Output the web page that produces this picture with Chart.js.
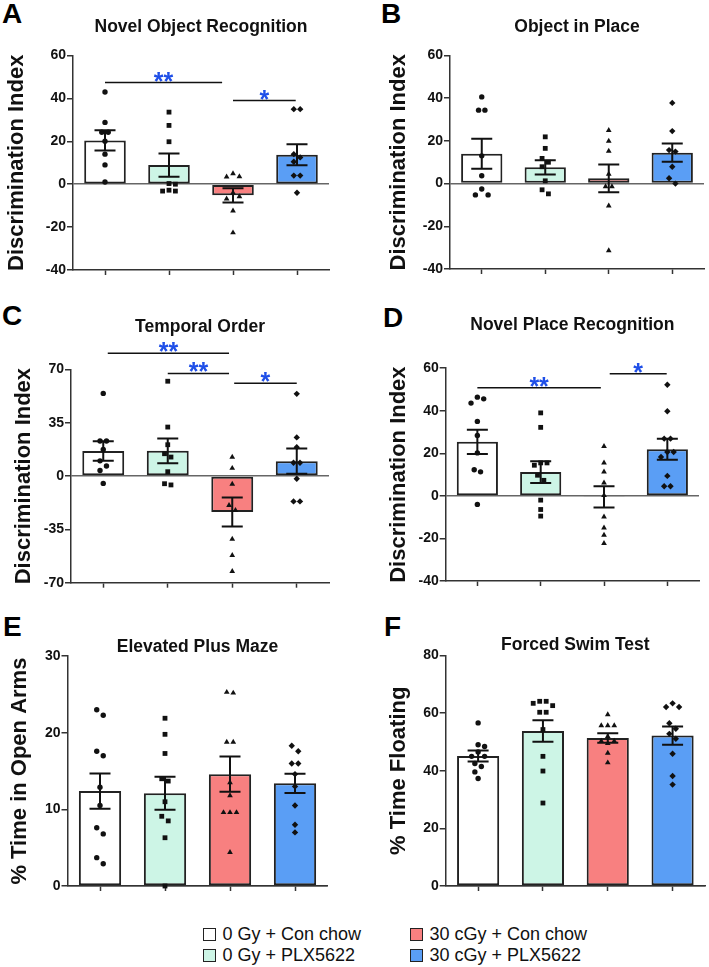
<!DOCTYPE html>
<html><head><meta charset="utf-8">
<script src="https://cdn.jsdelivr.net/npm/chart.js@4.4.1/dist/chart.umd.min.js"></script>
<style>
html,body{margin:0;padding:0;background:#fff;width:709px;height:967px;overflow:hidden;position:relative;font-family:"Liberation Sans",Arial,sans-serif;}
canvas{position:absolute;}
.lbl{position:absolute;font-weight:bold;font-size:28px;line-height:28px;color:#000;}
.leg{position:absolute;font-size:18px;line-height:21px;color:#111;white-space:nowrap;}
.box{position:absolute;width:11px;height:11px;border:1px solid #222;}
</style></head><body>
<div class="lbl" style="left:2px;top:0px">A</div>
<div class="lbl" style="left:381px;top:0px">B</div>
<div class="lbl" style="left:2px;top:302px">C</div>
<div class="lbl" style="left:383px;top:304px">D</div>
<div class="lbl" style="left:3px;top:613px">E</div>
<div class="lbl" style="left:384px;top:613px">F</div>
<canvas id="cA" width="354" height="300" style="left:0;top:0"></canvas>
<canvas id="cB" width="355" height="300" style="left:354px;top:0"></canvas>
<canvas id="cC" width="354" height="330" style="left:0;top:300px"></canvas>
<canvas id="cD" width="355" height="330" style="left:354px;top:300px"></canvas>
<canvas id="cE" width="354" height="270" style="left:0;top:630px"></canvas>
<canvas id="cF" width="355" height="270" style="left:354px;top:630px"></canvas>
<div id="legend"></div>
<script>
// ---------- data ----------
const categories = ['0 Gy + Con chow', '0 Gy + PLX5622', '30 cGy + Con chow', '30 cGy + PLX5622'];

const titleA = 'Novel Object Recognition';
const ticksA = [-40, -20, 0, 20, 40, 60];
const meansA = [20.4, 8.9, -5.2, 13.7];
const semA = [4.7, 5.4, 3.3, 4.9];
const pointsA = [
  [43, 28.8, 24.2, 24.2, 20, 14, 9, 1],
  [33.6, 27.4, 19.8, 0.3, 0, -2.8, -3.2, -3.2],
  [5, 3.4, 3.6, -4, -5.8, -6.8, -12.4, -22.6],
  [35, 35, 14, 12.5, 10.5, 4, 4, -4]
];
const sigA = [{from: 0, to: 1.83, y: 47.4, label: '**'}, {from: 2.0, to: 2.98, y: 39, label: '*'}];

const titleB = 'Object in Place';
const ticksB = [-40, -20, 0, 20, 40, 60];
const meansB = [14.0, 7.6, 2.5, 14.5];
const semB = [7.0, 3.3, 6.5, 4.3];
const pointsB = [
  [40.6, 34.4, 34.4, 13, 3.7, -2.5, -5.3, -5.3],
  [21.9, 16.5, 11.8, 10, 7.9, 1.3, -2.9, -4.8],
  [25, 19.9, 15.2, 4.5, -1.4, -1.4, -10.4, -31.4],
  [37.8, 24.6, 15.7, 15, 7.9, 2.5, 0]
];
const sigB = [];

const titleC = 'Temporal Order';
const ticksC = [-70, -35, 0, 35, 70];
const meansC = [16.5, 16.6, -23.6, 9.8];
const semC = [6.4, 8.1, 9.5, 8.3];
const pointsC = [
  [54.3, 23, 23, 17.5, 10, 6.6, 3.7, -4.8],
  [62.3, 32.2, 20.6, 14.7, 12.5, 2.9, -5, -5.8],
  [12.5, 5.2, -5.2, -19.2, -22.5, -41.3, -52, -62.5],
  [54, 25.4, 19, 8.8, 8.8, -1.7, -16.6, -16.6]
];
const sigC = [{from: 0.07, to: 1.95, y: 80.7, label: '**'}, {from: 1.0, to: 1.95, y: 67.4, label: '**'}, {from: 2.03, to: 3.0, y: 61, label: '*'}];

const titleD = 'Novel Place Recognition';
const ticksD = [-40, -20, 0, 20, 40, 60];
const meansD = [25.4, 11.2, -0.5, 21.9];
const semD = [5.7, 5.1, 5.0, 4.9];
const pointsD = [
  [46.4, 45.6, 43.6, 35, 28.4, 20.2, 12.3, 11.3, -4],
  [39, 32.2, 15.5, 15.5, 14.4, 9.7, 7.3, -2, -6.4, -9.5],
  [23.3, 15.5, 11.3, 6.1, 0.3, -9.8, -15, -18.4, -22.3],
  [52.2, 39.8, 26.9, 26.9, 20.6, 20.6, 18.3, 9.4, 4.5, 4.5]
];
const sigD = [{from: 0, to: 1.95, y: 50.8, label: '**'}, {from: 2.09, to: 2.99, y: 57.4, label: '*'}];

const titleE = 'Elevated Plus Maze';
const ticksE = [0, 10, 20, 30];
const meansE = [12.4, 12.1, 14.6, 13.4];
const semE = [2.3, 2.15, 2.3, 1.25];
const pointsE = [
  [23, 22.3, 17.6, 17, 12.9, 10.5, 7.6, 6.8, 3.7, 2.9],
  [21.9, 19.8, 17.3, 14, 13.7, 11, 9.1, 8.5, 6.3, 0],
  [25.3, 25.2, 18.8, 18.8, 13.5, 11.8, 9.6, 9.6, 9.6, 4.4],
  [18.3, 17.6, 16, 16, 14.6, 13, 10.5, 8, 7]
];
const sigE = [];

const titleF = 'Forced Swim Test';
const ticksF = [0, 20, 40, 60, 80];
const meansF = [45.1, 53.8, 51.4, 52.2];
const semF = [1.9, 3.75, 1.65, 3.2];
const pointsF = [
  [56.6, 49, 48.4, 46.5, 45, 45, 42.5, 41.5, 39.6, 37.3],
  [64.1, 64.1, 63.4, 62.6, 60.3, 60.3, 54.3, 45, 39.9, 28.8],
  [59.5, 55.7, 55.7, 55.7, 51.9, 50.3, 50.3, 49.5, 46.1, 42.8],
  [63.4, 62.1, 62.1, 56.5, 54.6, 52.8, 51.1, 45.9, 38.2, 35.2]
];
const sigF = [];

const yTitleDI = 'Discrimination Index';
const yTitleE = '% Time in Open Arms';
const yTitleF = '% Time Floating';

// ---------- styles ----------
const FONT = '"Liberation Sans", Arial, sans-serif';
const barColors = ['#ffffff', '#cdf5e6', '#f88080', '#5a9ef5'];
const pointStyles = ['circle', 'rect', 'triangle', 'rectRot'];
const pointRadii = [2.7, 3.4, 3.3, 3.2];

// ---------- helpers ----------
function swarm(vals, thr, step) {
  const n = vals.length;
  const order = vals.map((v, i) => i).sort((a, b) => vals[b] - vals[a]);
  const xs = new Array(n).fill(0);
  const placed = [];
  for (const i of order) {
    const near = placed.filter(j => Math.abs(vals[j] - vals[i]) < thr);
    const cands = [0];
    for (let k = 1; k < 12; k++) { cands.push(k * step / 2, -k * step / 2); }
    for (const c of cands) {
      if (near.every(j => Math.abs(xs[j] - c) >= step - 1e-9)) { xs[i] = c; break; }
    }
    placed.push(i);
  }
  const parent = vals.map((v, i) => i);
  const find = a => parent[a] === a ? a : (parent[a] = find(parent[a]));
  for (let a = 0; a < n; a++) for (let b = a + 1; b < n; b++)
    if (Math.abs(vals[a] - vals[b]) < thr) parent[find(a)] = find(b);
  const groups = {};
  for (let a = 0; a < n; a++) (groups[find(a)] = groups[find(a)] || []).push(a);
  Object.values(groups).forEach(g => {
    const mn = Math.min(...g.map(a => xs[a])), mx = Math.max(...g.map(a => xs[a]));
    const sh = (mn + mx) / 2;
    g.forEach(a => xs[a] -= sh);
  });
  return xs;
}

const extras = {
  id: 'extras',
  afterDatasetsDraw(chart, args, opts) {
    const p = opts.panel;
    const ctx = chart.ctx, xs = chart.scales.xs, y = chart.scales.y;
    ctx.save();
    ctx.strokeStyle = '#111';
    ctx.lineWidth = 2;
    p.means.forEach((m, i) => {
      const x = xs.getPixelForValue(i);
      const yt = y.getPixelForValue(m + p.sem[i]);
      const yb = y.getPixelForValue(m - p.sem[i]);
      ctx.beginPath();
      ctx.moveTo(x, yt); ctx.lineTo(x, yb);
      ctx.moveTo(x - 10.5, yt); ctx.lineTo(x + 10.5, yt);
      ctx.moveTo(x - 10.5, yb); ctx.lineTo(x + 10.5, yb);
      ctx.stroke();
    });
    p.sig.forEach(s => {
      const x1 = xs.getPixelForValue(s.from), x2 = xs.getPixelForValue(s.to), yy = y.getPixelForValue(s.y);
      ctx.strokeStyle = '#111'; ctx.lineWidth = 1.5;
      ctx.beginPath(); ctx.moveTo(x1, yy); ctx.lineTo(x2, yy); ctx.stroke();
      ctx.fillStyle = '#1f4fe8';
      ctx.font = 'bold 25px ' + FONT;
      ctx.textAlign = 'center'; ctx.textBaseline = 'alphabetic';
      ctx.fillText(s.label, (x1 + x2) / 2, yy + 7);
    });
    ctx.restore();
  }
};

function makePanel(id, p, lay) {
  const lo = p.ticks[0], hi = p.ticks[p.ticks.length - 1];
  const step = p.ticks[1] - p.ticks[0];
  const thr = (hi - lo) * 0.028;
  const pts = [];
  p.points.forEach((vals, g) => {
    const off = swarm(vals, thr, 0.1);
    vals.forEach((v, k) => pts.push({x: g + off[k], y: v, g: g}));
  });
  new Chart(document.getElementById(id), {
    type: 'bar',
    data: {
      labels: categories,
      datasets: [
        {
          type: 'bar', data: p.means, order: 2, grouped: false,
          backgroundColor: barColors, borderColor: '#222', borderWidth: 2, borderSkipped: false,
          barPercentage: 0.65, categoryPercentage: 1, xAxisID: 'x', yAxisID: 'y'
        },
        {
          type: 'scatter', data: pts, order: 1, clip: false,
          xAxisID: 'xs', yAxisID: 'y',
          pointStyle: c => pointStyles[c.raw.g],
          pointRadius: c => pointRadii[c.raw.g],
          pointBackgroundColor: '#111', pointBorderWidth: 0, showLine: false
        }
      ]
    },
    options: {
      responsive: false, animation: false, devicePixelRatio: 1,
      events: [],
      layout: {padding: {left: 0, top: 0, right: lay.padR, bottom: lay.padB}},
      plugins: {
        legend: {display: false}, tooltip: {enabled: false},
        title: {
          display: true, text: p.title, fullSize: false, color: '#111',
          font: {family: FONT, size: 17.5, weight: 'bold', lineHeight: 1},
          padding: {top: lay.tT, bottom: lay.tB}
        },
        extras: {panel: p}
      },
      scales: {
        x: {
          type: 'category', position: 'bottom', offset: true,
          border: {display: true, color: '#333', width: 1.5},
          grid: {display: true, drawOnChartArea: false, drawTicks: true, tickLength: 5, tickColor: '#333', tickWidth: 1.5, offset: false},
          ticks: {display: false},
          afterFit: s => { s.height = 8; }
        },
        xs: {type: 'linear', position: 'bottom', display: false, offset: false, grid: {offset: false}, min: -0.5, max: 3.5,
          afterFit: s => { s.height = 0; }},
        y: {
          type: 'linear', position: 'left', min: lo, max: hi,
          border: {display: true, color: '#333', width: 1.5},
          grid: {
            drawOnChartArea: true, drawTicks: true, tickLength: 6, tickColor: '#333', tickWidth: 1.5,
            lineWidth: 1.5, color: c => (c.tick && c.tick.value === 0) ? '#666' : 'rgba(0,0,0,0)'
          },
          ticks: {stepSize: step, color: '#111', padding: 1, font: {family: FONT, size: 14, weight: 'bold'}},
          title: {
            display: true, text: p.yTitle, color: '#111',
            font: {family: FONT, size: 22, weight: 'bold', lineHeight: 1.2},
            padding: {top: lay.yTP, bottom: 0}
          },
          afterFit: s => { s.width = lay.yW; }
        }
      }
    },
    plugins: [extras]
  });
}

makePanel('cA', {title: titleA, yTitle: yTitleDI, ticks: ticksA, means: meansA, sem: semA, points: pointsA, sig: sigA},
  {yW: 73, padR: 25, padB: 22, tT: 18.5, tB: 19.5, yTP: 3.8});
makePanel('cB', {title: titleB, yTitle: yTitleDI, ticks: ticksB, means: meansB, sem: semB, points: pointsB, sig: sigB},
  {yW: 96, padR: 5, padB: 23, tT: 18.5, tB: 19.5, yTP: 31.8});
makePanel('cC', {title: titleC, yTitle: yTitleDI, ticks: ticksC, means: meansC, sem: semC, points: pointsC, sig: sigC},
  {yW: 71, padR: 25, padB: 39.3, tT: 18.5, tB: 33.5, yTP: 10.8});
makePanel('cD', {title: titleD, yTitle: yTitleDI, ticks: ticksD, means: meansD, sem: semD, points: pointsD, sig: sigD},
  {yW: 91.7, padR: 10, padB: 41, tT: 16.5, tB: 34.2, yTP: 31.8});
makePanel('cE', {title: titleE, yTitle: yTitleE, ticks: ticksE, means: meansE, sem: semE, points: pointsE, sig: sigE},
  {yW: 67.5, padR: 26.5, padB: 6, tT: 8.2, tB: 0.5, yTP: 6.8});
makePanel('cF', {title: titleF, yTitle: yTitleF, ticks: ticksF, means: meansF, sem: semF, points: pointsF, sig: sigF},
  {yW: 91.7, padR: 2, padB: 6, tT: 6.5, tB: 1.5, yTP: 31.8});

// ---------- legend ----------
const leg = document.getElementById('legend');
const legPos = [[203, 924], [203, 945], [410, 924], [410, 945]];
categories.forEach((c, i) => {
  const b = document.createElement('div');
  b.className = 'box';
  b.style.left = legPos[i][0] + 'px';
  b.style.top = (legPos[i][1] + 4) + 'px';
  b.style.background = barColors[i];
  leg.appendChild(b);
  const t = document.createElement('div');
  t.className = 'leg';
  t.style.left = (legPos[i][0] + 19.5) + 'px';
  t.style.top = legPos[i][1] + 'px';
  t.textContent = c;
  leg.appendChild(t);
});
</script>
</body></html>
